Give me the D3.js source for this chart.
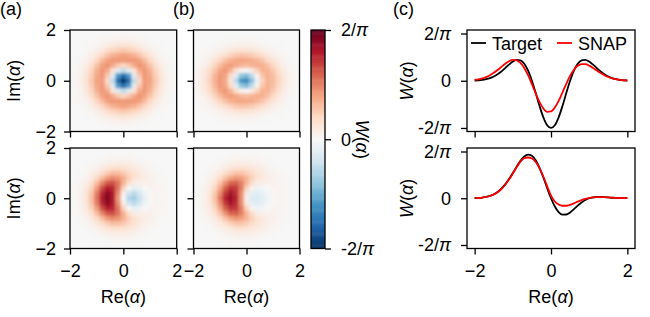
<!DOCTYPE html>
<html><head><meta charset="utf-8">
<script src="https://cdn.jsdelivr.net/npm/d3@7"></script>
<style>
body{margin:0;background:#fff;}
svg text{font-family:"Liberation Sans",Arial,Helvetica,sans-serif;fill:#000;}
</style>
</head><body>
<svg id="chart" width="650" height="317"></svg>
<script>
// ---------------- DATA ----------------
// Wigner functions in units of 2/pi (x100 for the maps)
const gridRe = [-2,-1.8,-1.6,-1.4,-1.2,-1,-0.8,-0.6,-0.4,-0.2,0,0.2,0.4,0.6,0.8,1,1.2,1.4,1.6,1.8,2];
const gridIm = [2,1.8,1.6,1.4,1.2,1,0.8,0.6,0.4,0.2,0,-0.2,-0.4,-0.6,-0.8,-1,-1.2,-1.4,-1.6,-1.8,-2];

const mapTargetTop = [
[0,0,0,0,0,0,0,0,0,0,0,0,0,0,0,0,0,0,0,0,0],
[0,0,0,0,0,0,1,1,1,2,2,2,1,1,1,0,0,0,0,0,0],
[0,0,0,0,0,1,2,3,4,5,6,5,4,3,2,1,0,0,0,0,0],
[0,0,0,1,1,3,5,8,11,13,14,13,11,8,5,3,1,1,0,0,0],
[0,0,0,1,3,7,11,17,22,25,27,25,22,17,11,7,3,1,0,0,0],
[0,0,1,3,7,13,21,29,36,39,41,39,36,29,21,13,7,3,1,0,0],
[0,1,2,5,11,21,32,41,44,44,43,44,44,41,32,21,11,5,2,1,0],
[0,1,3,8,17,29,41,45,38,27,21,27,38,45,41,29,17,8,3,1,0],
[0,1,4,11,22,36,44,38,15,-13,-26,-13,15,38,44,36,22,11,4,1,0],
[0,2,5,13,25,39,44,27,-13,-58,-78,-58,-13,27,44,39,25,13,5,2,0],
[0,2,6,14,27,41,43,21,-26,-78,-100,-78,-26,21,43,41,27,14,6,2,0],
[0,2,5,13,25,39,44,27,-13,-58,-78,-58,-13,27,44,39,25,13,5,2,0],
[0,1,4,11,22,36,44,38,15,-13,-26,-13,15,38,44,36,22,11,4,1,0],
[0,1,3,8,17,29,41,45,38,27,21,27,38,45,41,29,17,8,3,1,0],
[0,1,2,5,11,21,32,41,44,44,43,44,44,41,32,21,11,5,2,1,0],
[0,0,1,3,7,13,21,29,36,39,41,39,36,29,21,13,7,3,1,0,0],
[0,0,0,1,3,7,11,17,22,25,27,25,22,17,11,7,3,1,0,0,0],
[0,0,0,1,1,3,5,8,11,13,14,13,11,8,5,3,1,1,0,0,0],
[0,0,0,0,0,1,2,3,4,5,6,5,4,3,2,1,0,0,0,0,0],
[0,0,0,0,0,0,1,1,1,2,2,2,1,1,1,0,0,0,0,0,0],
[0,0,0,0,0,0,0,0,0,0,0,0,0,0,0,0,0,0,0,0,0]];

const mapSnapTop = [
[0,0,0,0,0,0,0,0,0,0,0,0,0,0,0,0,0,0,0,0,0],
[0,0,0,0,0,0,0,0,0,0,0,0,0,0,0,0,0,0,0,0,0],
[0,0,0,0,0,1,1,1,2,2,2,2,1,1,1,0,0,0,0,0,0],
[0,0,0,0,1,2,3,4,5,6,6,5,4,3,2,1,1,0,0,0,0],
[0,0,1,2,3,5,8,11,13,15,15,13,11,8,5,3,2,1,0,0,0],
[0,1,2,4,7,12,17,23,27,29,28,26,22,17,12,7,4,2,1,0,0],
[0,1,3,7,14,22,30,36,39,40,39,38,34,29,21,14,8,4,1,0,0],
[1,2,6,12,22,32,40,43,39,34,32,35,37,36,30,21,12,6,3,1,0],
[1,4,9,18,29,40,44,35,18,3,-1,9,24,35,35,27,17,9,4,1,0],
[2,5,11,21,34,44,40,20,-12,-39,-45,-26,4,28,36,31,21,11,5,2,1],
[2,5,12,23,36,44,38,12,-27,-59,-65,-43,-6,23,35,32,22,12,5,2,1],
[2,5,11,21,34,44,40,20,-12,-39,-45,-26,4,28,36,31,21,11,5,2,1],
[1,4,9,18,29,40,44,35,18,3,-1,9,24,35,35,27,17,9,4,1,0],
[1,2,6,12,22,32,40,43,39,34,32,35,37,36,30,21,12,6,3,1,0],
[0,1,3,7,14,22,30,36,39,40,39,38,34,29,21,14,8,4,1,0,0],
[0,1,2,4,7,12,17,23,27,29,28,26,22,17,12,7,4,2,1,0,0],
[0,0,1,2,3,5,8,11,13,15,15,13,11,8,5,3,2,1,0,0,0],
[0,0,0,0,1,2,3,4,5,6,6,5,4,3,2,1,1,0,0,0,0],
[0,0,0,0,0,1,1,1,2,2,2,2,1,1,1,0,0,0,0,0,0],
[0,0,0,0,0,0,0,0,0,0,0,0,0,0,0,0,0,0,0,0,0],
[0,0,0,0,0,0,0,0,0,0,0,0,0,0,0,0,0,0,0,0,0]];

const mapTargetBottom = [
[0,0,0,0,0,0,0,0,0,0,0,0,0,0,0,0,0,0,0,0,0],
[0,0,0,0,0,0,0,1,1,1,1,1,1,0,0,0,0,0,0,0,0],
[0,0,0,0,0,1,1,2,3,3,3,3,2,1,1,0,0,0,0,0,0],
[0,0,0,0,1,2,4,6,7,8,8,7,5,3,2,1,0,0,0,0,0],
[0,0,0,1,3,5,9,13,16,17,16,13,10,7,4,2,1,0,0,0,0],
[0,0,1,2,6,11,18,26,31,31,27,21,15,10,6,4,2,1,0,0,0],
[0,0,2,4,10,20,32,43,48,45,36,25,16,11,7,5,3,1,1,0,0],
[0,1,3,7,16,31,49,63,65,54,35,18,8,6,5,5,3,2,1,0,0],
[0,1,4,10,23,42,65,79,76,54,23,0,-8,-6,0,3,3,2,1,0,0],
[0,1,5,12,28,51,76,90,80,48,7,-20,-27,-18,-6,1,3,2,1,0,0],
[0,2,5,13,30,54,80,94,81,44,0,-30,-35,-23,-9,0,3,2,1,0,0],
[0,1,5,12,28,51,76,90,80,48,7,-20,-27,-18,-6,1,3,2,1,0,0],
[0,1,4,10,23,42,65,79,76,54,23,0,-8,-6,0,3,3,2,1,0,0],
[0,1,3,7,16,31,49,63,65,54,35,18,8,6,5,5,3,2,1,0,0],
[0,0,2,4,10,20,32,43,48,45,36,25,16,11,7,5,3,1,1,0,0],
[0,0,1,2,6,11,18,26,31,31,27,21,15,10,6,4,2,1,0,0,0],
[0,0,0,1,3,5,9,13,16,17,16,13,10,7,4,2,1,0,0,0,0],
[0,0,0,0,1,2,4,6,7,8,8,7,5,3,2,1,0,0,0,0,0],
[0,0,0,0,0,1,1,2,3,3,3,3,2,1,1,0,0,0,0,0,0],
[0,0,0,0,0,0,0,1,1,1,1,1,1,0,0,0,0,0,0,0,0],
[0,0,0,0,0,0,0,0,0,0,0,0,0,0,0,0,0,0,0,0,0]];

const mapSnapBottom = [
[0,0,0,0,0,0,0,0,0,0,0,0,0,0,0,0,0,0,0,0,0],
[0,0,0,0,0,0,0,1,1,1,1,1,1,0,0,0,0,0,0,0,0],
[0,0,0,0,0,1,1,2,3,3,3,3,2,1,1,0,0,0,0,0,0],
[0,0,0,0,1,2,4,6,7,7,7,6,5,3,2,1,0,0,0,0,0],
[0,0,0,1,3,5,8,12,15,16,15,12,9,7,4,2,1,0,0,0,0],
[0,0,1,2,6,10,17,24,29,29,25,20,14,9,6,4,2,1,0,0,0],
[0,0,2,4,9,19,30,40,45,42,34,24,15,10,7,5,3,1,1,0,0],
[0,1,3,7,15,29,46,59,61,51,34,18,8,6,5,4,3,2,1,0,0],
[0,1,4,9,21,39,60,73,71,52,24,3,-4,-3,0,3,3,2,1,0,0],
[0,1,5,11,26,47,71,84,75,47,10,-9,-12,-8,-3,1,3,2,1,0,0],
[0,2,5,13,29,53,78,87,78,47,6,-14,-16,-11,-4,1,2,2,1,0,0],
[0,1,5,11,26,47,71,84,75,47,10,-9,-12,-8,-3,1,3,2,1,0,0],
[0,1,4,9,21,39,60,73,71,52,24,3,-4,-3,0,3,3,2,1,0,0],
[0,1,3,7,15,29,46,59,61,51,34,18,8,6,5,4,3,2,1,0,0],
[0,0,2,4,9,19,30,40,45,42,34,24,15,10,7,5,3,1,1,0,0],
[0,0,1,2,6,10,17,24,29,29,25,20,14,9,6,4,2,1,0,0,0],
[0,0,0,1,3,5,8,12,15,16,15,12,9,7,4,2,1,0,0,0,0],
[0,0,0,0,1,2,4,6,7,7,7,6,5,3,2,1,0,0,0,0,0],
[0,0,0,0,0,1,1,2,3,3,3,3,2,1,1,0,0,0,0,0,0],
[0,0,0,0,0,0,0,1,1,1,1,1,1,0,0,0,0,0,0,0,0],
[0,0,0,0,0,0,0,0,0,0,0,0,0,0,0,0,0,0,0,0,0]];

// Cuts along Im(alpha)=0, in units of 2/pi
const cutRe = [-2,-1.9,-1.8,-1.7,-1.6,-1.5,-1.4,-1.3,-1.2,-1.1,-1,-0.9,-0.8,-0.7,-0.6,-0.5,-0.4,-0.3,-0.2,-0.1,0,0.1,0.2,0.3,0.4,0.5,0.6,0.7,0.8,0.9,1,1.1,1.2,1.3,1.4,1.5,1.6,1.7,1.8,1.9,2];
const cutTargetTop = [0.005,0.010,0.018,0.033,0.055,0.089,0.136,0.196,0.267,0.341,0.406,0.443,0.434,0.360,0.214,0.000,-0.261,-0.535,-0.775,-0.941,-1.000,-0.941,-0.775,-0.535,-0.261,0.000,0.214,0.360,0.434,0.443,0.406,0.341,0.267,0.196,0.136,0.089,0.055,0.033,0.018,0.010,0.005];
const cutSnapTop = [0.018,0.031,0.050,0.078,0.117,0.167,0.227,0.293,0.359,0.412,0.442,0.434,0.379,0.272,0.117,-0.072,-0.271,-0.452,-0.588,-0.658,-0.650,-0.568,-0.426,-0.249,-0.064,0.102,0.233,0.317,0.354,0.352,0.320,0.272,0.217,0.164,0.117,0.080,0.052,0.033,0.020,0.011,0.006];
const cutTargetBottom = [0.004,0.008,0.015,0.028,0.050,0.083,0.133,0.203,0.296,0.411,0.541,0.677,0.801,0.893,0.935,0.910,0.813,0.651,0.443,0.216,0.000,-0.176,-0.295,-0.351,-0.348,-0.303,-0.234,-0.158,-0.089,-0.036,0.000,0.020,0.027,0.027,0.022,0.017,0.011,0.007,0.004,0.002,0.001];
const cutSnapBottom = [0.004,0.008,0.015,0.028,0.048,0.081,0.129,0.197,0.288,0.400,0.528,0.662,0.782,0.858,0.872,0.850,0.775,0.640,0.465,0.255,0.055,-0.070,-0.135,-0.160,-0.160,-0.140,-0.108,-0.072,-0.040,-0.014,0.006,0.018,0.024,0.025,0.022,0.017,0.012,0.008,0.005,0.003,0.001];

const mapTicks = [-2,0,2];
const mapTickLabels = ["\u22122","0","2"];
const wTicks = [-1,0,1];
const wTickLabels = ["-2/\u03c0","0","2/\u03c0"];
const cbTicks = [-100,0,100];
const legendLabels = ["Target","SNAP"];
const panelLabels = ["(a)","(b)","(c)"];

// ---------------- STYLE / LAYOUT ----------------
const FS = 18;
const rdbu = ["#67001f","#b2182b","#d6604d","#f4a582","#fddbc7","#f7f7f7","#d1e5f0","#92c5de","#4393c3","#2166ac","#053061"];
const color = d3.scaleLinear().domain(d3.range(11).map(i => 100 - 20*i)).range(rdbu).clamp(true);
const colA = [70, 176.7], colB = [193.5, 299.5], colC = [467, 635];
const rowT = [30, 131.5], rowB = [148, 248.5];
const cbX = [311, 325];
const lineColors = ["#000000","#ff0000"];

const svg = d3.select("#chart");
const defs = svg.append("defs");
defs.append("filter").attr("id","soft").attr("x","-5%").attr("y","-5%").attr("width","110%").attr("height","110%")
  .append("feGaussianBlur").attr("stdDeviation",1.6);

function mathText(sel, str){
  sel.text(null);
  const re = /(\u03b1|\u03c0|W(?=\())/g;
  let last = 0, m;
  while((m = re.exec(str))){
    if(m.index > last) sel.append("tspan").text(str.slice(last, m.index));
    sel.append("tspan").attr("font-style","italic").text(m[0]);
    last = m.index + m[0].length;
  }
  if(last < str.length) sel.append("tspan").text(str.slice(last));
}

function styleAxis(g){
  g.select(".domain").remove();
  g.selectAll(".tick line").attr("stroke","#000").attr("stroke-width",1.3);
  g.selectAll(".tick text").attr("font-size",FS).attr("font-family",null);
}

let clipId = 0;
function heatPanel(grid, xr, yr, showX, showY){
  const x = d3.scaleLinear().domain([-2,2]).range(xr);
  const y = d3.scaleLinear().domain([-2,2]).range([yr[1], yr[0]]);
  const id = "clip" + (clipId++);
  defs.append("clipPath").attr("id",id).append("rect")
    .attr("x",xr[0]).attr("y",yr[0]).attr("width",xr[1]-xr[0]).attr("height",yr[1]-yr[0]);
  const g = svg.append("g");
  const cg = g.append("g").attr("clip-path",`url(#${id})`);
  cg.append("rect").attr("x",xr[0]).attr("y",yr[0]).attr("width",xr[1]-xr[0]).attr("height",yr[1]-yr[0]).attr("fill",color(0));
  const cells = cg.append("g").attr("filter","url(#soft)");
  const dx = Math.abs(x(gridRe[1]) - x(gridRe[0]));
  const dy = Math.abs(y(gridIm[1]) - y(gridIm[0]));
  grid.forEach((row, j) => {
    cells.selectAll(null).data(row).enter().append("rect")
      .attr("x",(d,i) => x(gridRe[i]) - dx/2)
      .attr("y", y(gridIm[j]) - dy/2)
      .attr("width", dx + 0.4).attr("height", dy + 0.4)
      .attr("fill", d => color(d));
  });
  const ax = g.append("g").attr("transform",`translate(0,${yr[1]})`)
    .call(d3.axisBottom(x).tickValues(mapTicks).tickSize(6).tickPadding(9.5)
      .tickFormat((d,i) => showX ? mapTickLabels[i] : ""));
  styleAxis(ax);
  const ay = g.append("g").attr("transform",`translate(${xr[0]},0)`)
    .call(d3.axisLeft(y).tickValues(mapTicks).tickSize(6).tickPadding(8)
      .tickFormat((d,i) => showY ? mapTickLabels[i] : ""));
  styleAxis(ay);
  g.append("rect").attr("x",xr[0]).attr("y",yr[0]).attr("width",xr[1]-xr[0]).attr("height",yr[1]-yr[0])
    .attr("fill","none").attr("stroke","#000").attr("stroke-width",1.3);
}

heatPanel(mapTargetTop, colA, rowT, false, true);
heatPanel(mapTargetBottom, colA, rowB, true, true);
heatPanel(mapSnapTop, colB, rowT, false, false);
heatPanel(mapSnapBottom, colB, rowB, true, false);

// axis labels for maps
[rowT, rowB].forEach(r => {
  svg.append("text").attr("transform",`translate(20,${(r[0]+r[1])/2}) rotate(-90)`)
    .attr("text-anchor","middle").attr("font-size",FS).call(mathText,"Im(\u03b1)");
});
[colA, colB, colC].forEach(c => {
  svg.append("text").attr("x",(c[0]+c[1])/2).attr("y",303).attr("text-anchor","middle")
    .attr("font-size",FS).call(mathText,"Re(\u03b1)");
});

// colorbar
const cbScale = d3.scaleLinear().domain([-100,100]).range([rowB[1], rowT[0]]);
const cbSteps = d3.range(-100, 100, 1);
svg.append("g").selectAll("rect").data(cbSteps).enter().append("rect")
  .attr("x",cbX[0]).attr("width",cbX[1]-cbX[0])
  .attr("y", d => cbScale(d+1)).attr("height", d => cbScale(d) - cbScale(d+1) + 0.5)
  .attr("fill", d => color(d+0.5));
const cbAx = svg.append("g").attr("transform",`translate(${cbX[1]},0)`)
  .call(d3.axisRight(cbScale).tickValues(cbTicks).tickSize(6).tickPadding(10).tickFormat((d,i) => wTickLabels[i]));
styleAxis(cbAx);
cbAx.selectAll(".tick text").each(function(d,i){ d3.select(this).call(mathText, wTickLabels[i]); });
svg.append("rect").attr("x",cbX[0]).attr("y",rowT[0]).attr("width",cbX[1]-cbX[0]).attr("height",rowB[1]-rowT[0])
  .attr("fill","none").attr("stroke","#000").attr("stroke-width",1.3);
svg.append("text").attr("transform",`translate(356,${(rowT[0]+rowB[1])/2}) rotate(90)`)
  .attr("text-anchor","middle").attr("font-size",FS).call(mathText,"W(\u03b1)");

// cut panels
const xc = d3.scaleLinear().domain([-2.2,2.2]).range(colC);
function cutPanel(yr, series, showX, legend){
  const y = d3.scaleLinear().domain([-1.075,1.075]).range([yr[1], yr[0]]);
  const g = svg.append("g");
  const line = d3.line().x((d,i) => xc(cutRe[i])).y(d => y(d)).curve(d3.curveMonotoneX);
  series.forEach((s, k) => {
    g.append("path").datum(s).attr("d", line).attr("fill","none")
      .attr("stroke", lineColors[k]).attr("stroke-width",1.8);
  });
  const ax = g.append("g").attr("transform",`translate(0,${yr[1]})`)
    .call(d3.axisBottom(xc).tickValues(mapTicks).tickSize(6).tickPadding(9.5)
      .tickFormat((d,i) => showX ? mapTickLabels[i] : ""));
  styleAxis(ax);
  const ay = g.append("g").attr("transform",`translate(${colC[0]},0)`)
    .call(d3.axisLeft(y).tickValues(wTicks).tickSize(6).tickPadding(10).tickFormat((d,i) => wTickLabels[i]));
  styleAxis(ay);
  ay.selectAll(".tick text").each(function(d,i){ d3.select(this).call(mathText, wTickLabels[i]); });
  g.append("rect").attr("x",colC[0]).attr("y",yr[0]).attr("width",colC[1]-colC[0]).attr("height",yr[1]-yr[0])
    .attr("fill","none").attr("stroke","#000").attr("stroke-width",1.3);
  g.append("text").attr("transform",`translate(413,${(yr[0]+yr[1])/2}) rotate(-90)`)
    .attr("text-anchor","middle").attr("font-size",FS).call(mathText,"W(\u03b1)");
  if(legend){
    const lg = g.append("g").attr("transform",`translate(${colC[0]+4},${yr[0]+13})`);
    const offs = [0, 86];
    legendLabels.forEach((lab,k) => {
      lg.append("line").attr("x1",offs[k]).attr("x2",offs[k]+15).attr("y1",0).attr("y2",0)
        .attr("stroke",lineColors[k]).attr("stroke-width",1.8);
      lg.append("text").attr("x",offs[k]+21).attr("y",6.5).attr("font-size",FS).text(lab);
    });
  }
}
cutPanel(rowT, [cutTargetTop, cutSnapTop], false, true);
cutPanel(rowB, [cutTargetBottom, cutSnapBottom], true, false);

// panel labels
const plX = [0, 173, 393];
panelLabels.forEach((t,i) => {
  svg.append("text").attr("x",plX[i]).attr("y",15).attr("font-size",FS).text(t);
});
</script>
</body></html>
